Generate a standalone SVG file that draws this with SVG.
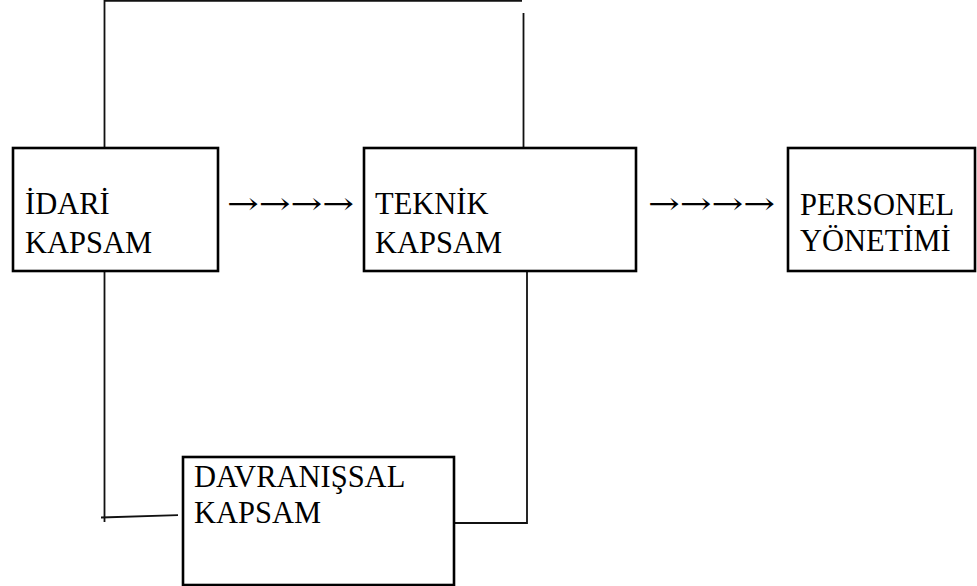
<svg xmlns="http://www.w3.org/2000/svg" width="977" height="586" viewBox="0 0 977 586">
  <style>
    .box { fill: #ffffff; stroke: #000000; stroke-width: 2.6; }
    .link { fill: none; stroke: #111111; stroke-width: 1.8; }
    .lbl { font-family: "Liberation Serif", "Times New Roman", serif; font-size: 30.5px; fill: #000000; }
    .flow { font-family: "DejaVu Serif", "Liberation Serif", serif; font-size: 30.5px; fill: #000000; }
  </style>
  <rect width="977" height="586" fill="#ffffff"/>

  <!-- connectors -->
  <g id="connectors">
    <polyline class="link" points="104.5,166 104.5,0.9 522,0.9"/>
    <line class="link" x1="523.5" y1="13" x2="523.5" y2="169"/>
    <line class="link" x1="104.5" y1="271" x2="104.5" y2="522"/>
    <line class="link" x1="101" y1="517.5" x2="178" y2="515.2"/>
    <polyline class="link" points="527,271 527,523 454,523"/>
    <!-- flow arrows between the top boxes -->
    <text class="flow" x="227" y="214" textLength="127" lengthAdjust="spacingAndGlyphs">→→→→</text>
    <text class="flow" x="648" y="214" textLength="127" lengthAdjust="spacingAndGlyphs">→→→→</text>
  </g>

  <!-- administrative scope -->
  <g id="idari">
    <rect class="box" x="13" y="148" width="205" height="123"/>
    <text class="lbl" x="25" y="214">İDARİ</text>
    <text class="lbl" x="25" y="253">KAPSAM</text>
  </g>

  <!-- technical scope -->
  <g id="teknik">
    <rect class="box" x="364" y="148" width="272" height="123"/>
    <text class="lbl" x="375" y="214">TEKNİK</text>
    <text class="lbl" x="375" y="253">KAPSAM</text>
  </g>

  <!-- personnel management -->
  <g id="personel">
    <rect class="box" x="788" y="148" width="187" height="123"/>
    <text class="lbl" x="800" y="215">PERSONEL</text>
    <text class="lbl" x="800" y="251">YÖNETİMİ</text>
  </g>

  <!-- behavioural scope -->
  <g id="davranissal">
    <rect class="box" x="183" y="457" width="271" height="128"/>
    <text class="lbl" x="194" y="487">DAVRANIŞSAL</text>
    <text class="lbl" x="194" y="523">KAPSAM</text>
  </g>
</svg>
